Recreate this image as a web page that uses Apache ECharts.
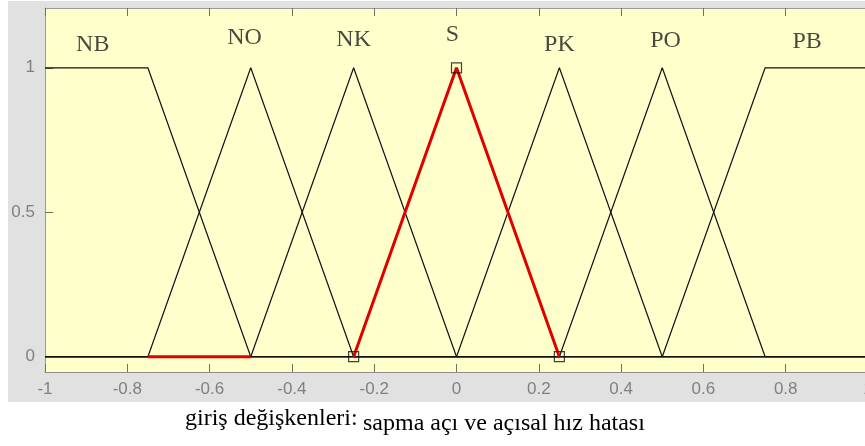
<!DOCTYPE html>
<html>
<head>
<meta charset="utf-8">
<script src="https://cdn.jsdelivr.net/npm/echarts@6/dist/echarts.min.js"></script>
<style>
  html, body { margin: 0; padding: 0; background: #ffffff; }
  #chart { width: 865px; height: 446px; }
</style>
</head>
<body>
<div id="chart"></div>
<script>
// Axis ticks
const xTicks = [-1, -0.8, -0.6, -0.4, -0.2, 0, 0.2, 0.4, 0.6, 0.8, 1];
const yTicks = [0, 0.5, 1];

// Membership functions (breakpoints over the input range)
const nbX = [-1, -0.75, -0.5, 1];
const nbY = [1, 1, 0, 0];
const noX = [-1, -0.75, -0.5, -0.25, 1];
const noY = [0, 0, 1, 0, 0];
const nkX = [-1, -0.5, -0.25, 0, 1];
const nkY = [0, 0, 1, 0, 0];
const sX = [-0.25, 0, 0.25];
const sY = [0, 1, 0];
const pkX = [-1, 0, 0.25, 0.5, 1];
const pkY = [0, 0, 1, 0, 0];
const poX = [-1, 0.25, 0.5, 0.75, 1];
const poY = [0, 0, 1, 0, 0];
const pbX = [-1, 0.5, 0.75, 1];
const pbY = [0, 0, 1, 1];

// Highlighted stretch of the zero line
const redBaseX = [-0.75, -0.5];
const redBaseY = [0, 0];

// Selected function's vertices
const markerX = [-0.25, 0, 0.25];
const markerY = [0, 1, 0];

// Function names and where they are written
const mfNames = ['NB', 'NO', 'NK', 'S', 'PK', 'PO', 'PB'];
const labelX = [-0.884, -0.515, -0.250, -0.010, 0.250, 0.508, 0.852];
const labelY = [1.080, 1.103, 1.097, 1.114, 1.080, 1.094, 1.091];

const pairs = (xs, ys) => xs.map((x, i) => [x, ys[i]]);

function mfLine(xs, ys) {
  return {
    type: 'line',
    data: pairs(xs, ys),
    showSymbol: false,
    symbol: 'none',
    lineStyle: { color: '#111111', width: 1.2 },
    z: 3,
    silent: true
  };
}

const chart = echarts.init(document.getElementById('chart'), null, { renderer: 'canvas' });

const option = {
  animation: false,
  backgroundColor: '#ffffff',
  graphic: [
    {
      type: 'rect',
      z: -10,
      shape: { x: 8, y: 1, width: 860, height: 401 },
      style: { fill: '#e1e1e1' },
      silent: true
    },
    {
      type: 'text',
      z: 10,
      style: {
        text: 'giriş değişkenleri:',
        x: 185, y: 419,
        font: '24px "Liberation Serif"',
        fill: '#000000',
        verticalAlign: 'middle'
      }
    },
    {
      type: 'text',
      z: 10,
      style: {
        text: 'sapma açı ve açısal hız hatası',
        x: 363, y: 424,
        font: '24px "Liberation Serif"',
        fill: '#000000',
        verticalAlign: 'middle'
      }
    }
  ],
  grid: {
    left: 45, top: 8, width: 823, height: 364,
    show: true,
    backgroundColor: '#ffffcc',
    borderWidth: 0,
    containLabel: false,
    outerBoundsMode: 'none'
  },
  xAxis: [
    {
      type: 'value',
      min: -1, max: 1, interval: 0.2,
      position: 'bottom',
      axisLine: { show: true, onZero: false, lineStyle: { color: '#8c8c8c', width: 1 } },
      axisTick: { show: true, inside: true, length: 8, customValues: xTicks, lineStyle: { color: '#707060' } },
      axisLabel: {
        show: true, margin: 9,
        customValues: xTicks,
        color: '#808080',
        fontFamily: 'Liberation Sans',
        fontSize: 17,
        formatter: v => String(Math.round(v * 10) / 10)
      },
      splitLine: { show: false }
    },
    {
      type: 'value',
      min: -1, max: 1, interval: 0.2,
      position: 'top',
      axisLine: { show: true, onZero: false, lineStyle: { color: '#9a9a9a', width: 1 } },
      axisTick: { show: true, inside: true, length: 8, customValues: xTicks, lineStyle: { color: '#707060' } },
      axisLabel: { show: false },
      splitLine: { show: false }
    }
  ],
  yAxis: [
    {
      type: 'value',
      min: -0.053, max: 1.207,
      position: 'left',
      axisLine: { show: true, onZero: false, lineStyle: { color: '#9a9a9a', width: 1 } },
      axisTick: { show: true, inside: true, length: 8, customValues: yTicks, lineStyle: { color: '#707060' } },
      axisLabel: {
        show: true, margin: 10,
        customValues: yTicks,
        color: '#808080',
        fontFamily: 'Liberation Sans',
        fontSize: 17,
        formatter: v => String(Math.round(v * 10) / 10)
      },
      splitLine: { show: false }
    }
  ],
  series: [
    mfLine(nbX, nbY),
    mfLine(noX, noY),
    mfLine(nkX, nkY),
    mfLine(pkX, pkY),
    mfLine(poX, poY),
    mfLine(pbX, pbY),
    {
      type: 'line',
      data: pairs(redBaseX, redBaseY),
      showSymbol: false,
      symbol: 'none',
      lineStyle: { color: '#e00000', width: 3 },
      z: 4,
      silent: true
    },
    {
      type: 'line',
      data: pairs(sX, sY),
      showSymbol: false,
      symbol: 'none',
      lineStyle: { color: '#e00000', width: 3 },
      z: 5,
      silent: true
    },
    {
      type: 'scatter',
      data: pairs(markerX, markerY),
      symbol: 'rect',
      symbolSize: 10,
      itemStyle: { color: 'rgba(0,0,0,0)', borderColor: '#111111', borderWidth: 1.2 },
      z: 6,
      silent: true
    },
    {
      type: 'scatter',
      data: mfNames.map((n, i) => [labelX[i], labelY[i], n]),
      symbolSize: 0,
      label: {
        show: true,
        position: 'inside',
        formatter: p => p.data[2],
        color: '#1a1a1a',
        fontFamily: 'Liberation Serif',
        fontSize: 24
      },
      z: 7,
      silent: true
    }
  ]
};

chart.setOption(option);
</script>
</body>
</html>
